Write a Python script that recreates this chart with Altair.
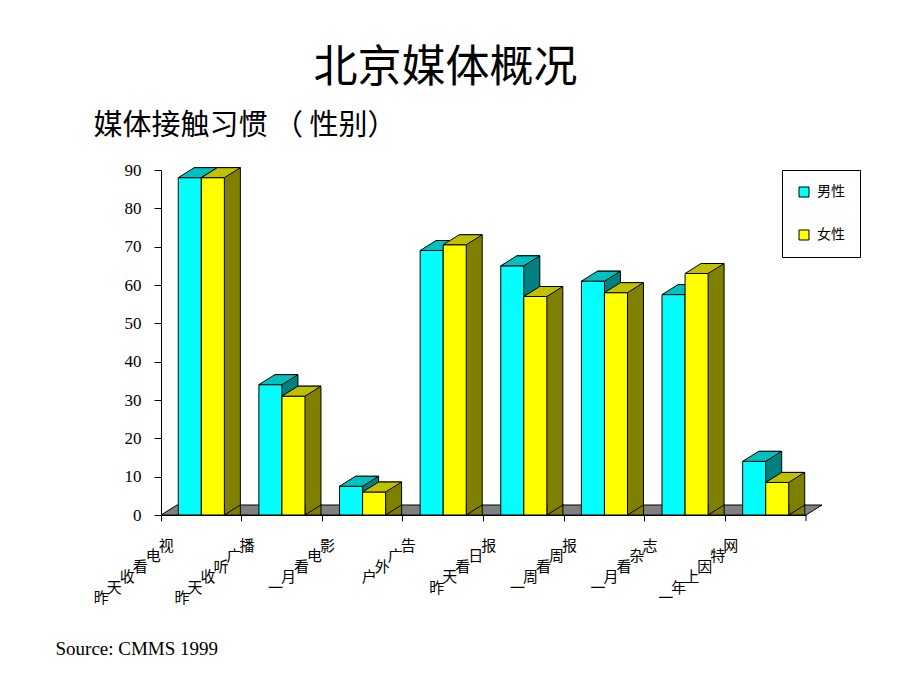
import altair as alt
import pandas as pd

# ---- data ----
media = ["昨天收看电视", "昨天收听广播", "一月看电影", "户外广告",
         "昨天看日报", "一周看周报", "一月看杂志", "一年上因特网"]
genders = ["男性", "女性"]
male = [88, 34, 7.5, 69, 65, 61, 57.5, 14]
female = [88, 31, 6, 70.5, 57, 58, 63, 8.5]
y_ticks = [0, 10, 20, 30, 40, 50, 60, 70, 80, 90]

# ---- styling / layout constants ----
CJK = "Noto Sans CJK SC"
SERIF = "Liberation Serif"
W, H = 645, 345
D, E = 16, 10              # 3-D depth (pixels)
PAD_OUT = 0.75
step = W / len(media) / (2 + 2 * PAD_OUT)   # bar width
h = step / 2

colors = {
    "男性": {"front": "#00FFFF", "top": "#00C0C0", "side": "#008080", "c": -h},
    "女性": {"front": "#FFFF00", "top": "#C0C000", "side": "#808000", "c": h},
}

rows = []
for i, m in enumerate(media):
    rows.append({"media": m, "gender": "男性", "value": male[i]})
    rows.append({"media": m, "gender": "女性", "value": female[i]})
df = pd.DataFrame(rows)

chars = []
for m in media:
    n = len(m)
    for k, ch in enumerate(m):
        chars.append({"media": m, "ch": ch, "j": n - 1 - k})
cdf = pd.DataFrame(chars)

# ---- shared encodings ----
x_scale = alt.Scale(domain=media, paddingInner=0, paddingOuter=0)
x_axis = alt.Axis(labels=False, ticks=True, bandPosition=0, tickSize=6,
                  tickColor="black", domainColor="black", grid=False,
                  titleX=-106, titleY=133, titleAlign="left", titleBaseline="middle",
                  titleFont=SERIF, titleFontSize=19, titleFontWeight="normal",
                  titleColor="black")
x_enc = alt.X("media:N", sort=media, scale=x_scale, axis=x_axis,
              title="Source: CMMS 1999")

y_scale = alt.Scale(domain=[0, 90], nice=False, zero=True)
y_axis = alt.Axis(values=y_ticks, tickSize=7, tickColor="black", domainColor="black",
                  grid=False, labelFont=SERIF, labelFontSize=17, labelColor="black",
                  labelPadding=13,
                  titleAngle=0, titleX=-68, titleY=-45, titleAlign="left",
                  titleBaseline="middle", titleFont=CJK, titleFontSize=29,
                  titleFontWeight="normal", titleColor="black")
Y_TITLE = "媒体接触习惯 （ 性别）"


def y_of(field):
    return alt.Y(f"{field}:Q", scale=y_scale, axis=y_axis, title=Y_TITLE, stack=False)


legend = alt.Legend(orient="none", legendX=621, legendY=0, strokeColor="black",
                    fillColor="white", padding=15, symbolType="square",
                    symbolSize=100, symbolStrokeColor="black", symbolStrokeWidth=1,
                    symbolOpacity=1, labelFont=CJK, labelFontSize=14,
                    labelColor="black", rowPadding=29, labelOffset=6,
                    labelExpr="datum.label + '\u3000'")
color_enc = alt.Color("gender:N", scale=alt.Scale(domain=genders,
                      range=[colors[g]["front"] for g in genders]),
                      legend=legend, title=None)

top_path = f"M{-h},0 L{h},0 L{h + D},{-E} L{-h + D},{-E} Z"
tri_path = f"M{h + D},{-E - 1} L{h + D},{-E} L{h},0 L{h},{-E - 1}"
floor_path = f"M0,0 L{W},0 L{W + D},{-E} L{D},{-E} Z M{W},0 L{W},6"

base = alt.Chart(df).transform_calculate(zero="0")

layers = []

# floor
floor = alt.Chart(pd.DataFrame({"zero": [0]})).mark_point(
    shape=floor_path, size=4, filled=True, fill="#808080", stroke="black",
    strokeWidth=1, opacity=1
).encode(x=alt.value(0), y=y_of("zero"))
layers.append(floor)

for g in genders:
    c = colors[g]
    sub = base.transform_filter(alt.datum.gender == g)
    back = sub.mark_bar(color=c["side"], stroke="black", strokeWidth=1, width=step,
                        xOffset=c["c"] + D, yOffset=-E, y2Offset=-E).encode(
        x=x_enc, y=y_of("value"))
    tri = sub.mark_point(shape=tri_path, size=4, filled=True, fill=c["side"],
                         stroke="black", strokeWidth=1, opacity=1,
                         xOffset=c["c"]).encode(x=x_enc, y=y_of("zero"))
    front = sub.mark_bar(stroke="black", strokeWidth=1, width=step,
                         xOffset=c["c"]).encode(x=x_enc, y=y_of("value"),
                                                color=color_enc)
    top = sub.mark_point(shape=top_path, size=4, filled=True, fill=c["top"],
                         stroke="black", strokeWidth=1, opacity=1,
                         xOffset=c["c"]).encode(x=x_enc, y=y_of("value"))
    layers += [back, tri, front, top]

# diagonal category labels, one character at a time
cbase = alt.Chart(cdf).transform_calculate(zero="0")
for k in range(6):
    t = cbase.transform_filter(alt.datum.j == k).mark_text(
        font=CJK, fontSize=15, color="black", align="center", baseline="middle",
        dx=-35 - 13 * k, dy=31 + 10.4 * k
    ).encode(x=x_enc, y=y_of("zero"), text="ch:N")
    layers.append(t)

chart = alt.layer(*layers).properties(
    width=W, height=H,
    autosize=alt.AutoSizeParams(type="none"),
    padding={"left": 161, "top": 170, "right": 114, "bottom": 175},
    title=alt.TitleParams("北京媒体概况", font=CJK, fontSize=44, fontWeight="normal",
                          color="black", anchor="middle", dx=-38, offset=20),
).configure(background="white").configure_view(stroke=None)

chart.save("out.html", embed_options={"renderer": "svg", "actions": False})
